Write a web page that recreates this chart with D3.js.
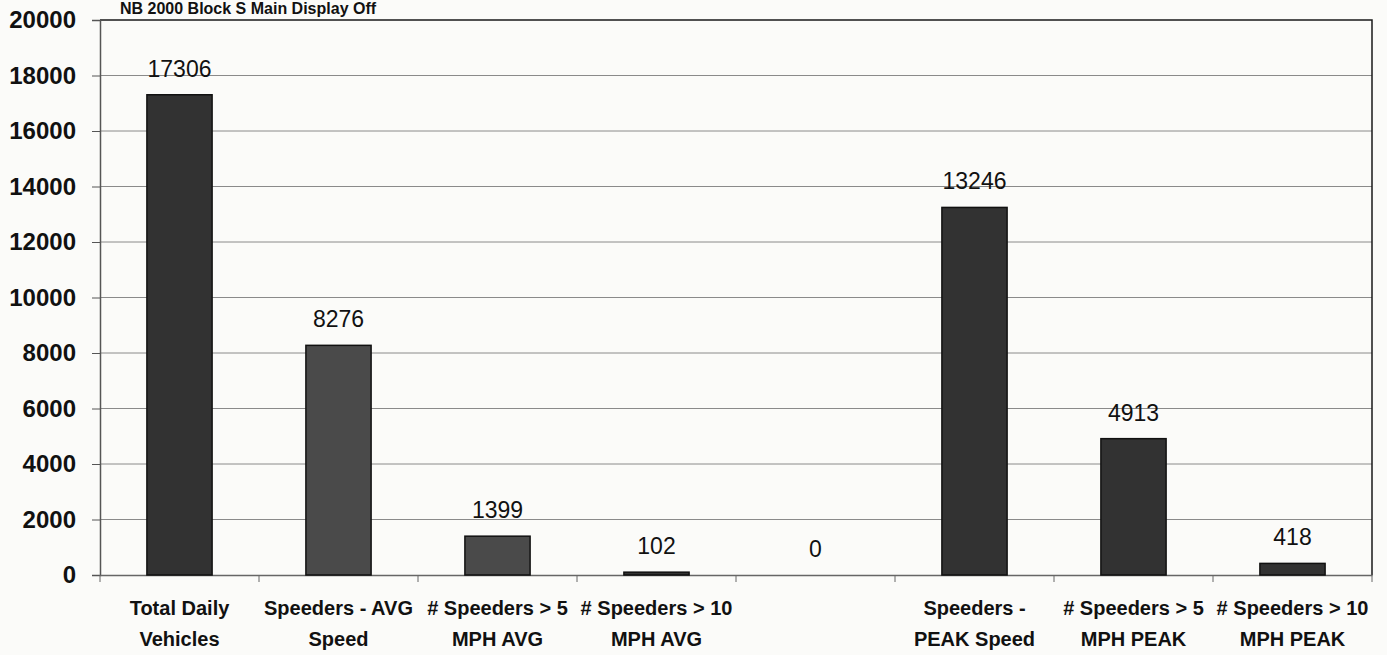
<!DOCTYPE html>
<html>
<head>
<meta charset="utf-8">
<script src="https://cdn.jsdelivr.net/npm/d3@7"></script>
<style>
  body { margin: 0; background: #fbfbf9; }
  svg { display: block; }
</style>
</head>
<body>
<svg id="chart" width="1387" height="655"></svg>
<script>
/* Chart data */
var categories = [
    ["Total Daily", "Vehicles"],
    ["Speeders - AVG", "Speed"],
    ["# Speeders > 5", "MPH AVG"],
    ["# Speeders > 10", "MPH AVG"],
    [""],
    ["Speeders -", "PEAK Speed"],
    ["# Speeders > 5", "MPH PEAK"],
    ["# Speeders > 10", "MPH PEAK"]
];
var values = [17306, 8276, 1399, 102, 0, 13246, 4913, 418];
var yTicks = [0, 2000, 4000, 6000, 8000, 10000, 12000, 14000, 16000, 18000, 20000];
var title = "NB 2000 Block S Main Display Off";

var svg = d3.select("#chart"),
    margin = { top: 20, right: 15, bottom: 80, left: 100 },
    width = +svg.attr("width") - margin.left - margin.right,
    height = +svg.attr("height") - margin.top - margin.bottom;

var font = "'Liberation Sans', Arial, sans-serif";

// title, squeezed above the plot frame
svg.append("text")
    .attr("x", 120)
    .attr("y", 14)
    .attr("font-family", font)
    .attr("font-weight", "bold")
    .attr("font-size", 16)
    .attr("fill", "#111")
    .text(title);

var x = d3.scaleBand()
    .domain(d3.range(categories.length))
    .range([0, width])
    .paddingInner(0)
    .paddingOuter(0);

var y = d3.scaleLinear()
    .domain([0, 20000])
    .range([height, 0]);

var g = svg.append("g")
    .attr("transform", "translate(" + margin.left + "," + margin.top + ")");

// gridlines
g.selectAll(".grid")
    .data(yTicks.slice(1, -1))
    .enter().append("line")
    .attr("x1", 0)
    .attr("x2", width)
    .attr("y1", function (d) { return y(d); })
    .attr("y2", function (d) { return y(d); })
    .attr("stroke", "#8a8a8a")
    .attr("stroke-width", 1);

// frame top and right
g.append("path")
    .attr("d", "M0," + y(20000) + "H" + width + "V" + height)
    .attr("fill", "none")
    .attr("stroke", "#1a1a1a")
    .attr("stroke-width", 1.5);

// y axis
var yAxis = g.append("g")
    .call(d3.axisLeft(y).tickValues(yTicks).tickSize(8).tickPadding(16).tickFormat(d3.format("d")));
yAxis.select(".domain").attr("stroke", "#555").attr("stroke-width", 1.5);
yAxis.selectAll(".tick line").attr("stroke", "#555");
yAxis.selectAll("text")
    .attr("font-family", font)
    .attr("font-weight", "bold")
    .attr("font-size", 24)
    .attr("fill", "#111");

// x axis with ticks on band edges
var xAxis = g.append("g")
    .attr("transform", "translate(0," + height + ")")
    .call(d3.axisBottom(x).tickSize(0).tickFormat(""));
xAxis.select(".domain").attr("stroke", "#666").attr("stroke-width", 1.5);

g.selectAll(".xtick")
    .data(d3.range(categories.length + 1))
    .enter().append("line")
    .attr("x1", function (d) { return d * x.step(); })
    .attr("x2", function (d) { return d * x.step(); })
    .attr("y1", height)
    .attr("y2", height + 7)
    .attr("stroke", "#666");

// category labels
var labels = g.selectAll(".xlabel")
    .data(categories)
    .enter().append("text")
    .attr("text-anchor", "middle")
    .attr("font-family", font)
    .attr("font-weight", "bold")
    .attr("font-size", 20)
    .attr("fill", "#111")
    .attr("transform", function (d, i) {
        return "translate(" + (x(i) + x.bandwidth() / 2) + "," + (height + 40) + ")";
    });
labels.selectAll("tspan")
    .data(function (d) { return d; })
    .enter().append("tspan")
    .attr("x", 0)
    .attr("dy", function (d, i) { return i === 0 ? 0 : 31; })
    .text(function (d) { return d; });

// bars
var barW = x.bandwidth() * 0.41;
g.selectAll(".bar")
    .data(values)
    .enter().append("rect")
    .attr("class", "bar")
    .attr("x", function (d, i) { return x(i) + (x.bandwidth() - barW) / 2; })
    .attr("y", function (d) { return y(d); })
    .attr("width", barW)
    .attr("height", function (d) { return height - y(d); })
    .attr("fill", function (d, i) { return (i === 1 || i === 2) ? "#4a4a4a" : "#323232"; })
    .attr("stroke", "#111")
    .attr("stroke-width", 1.5);

// value labels
g.selectAll(".val")
    .data(values)
    .enter().append("text")
    .attr("x", function (d, i) { return x(i) + x.bandwidth() / 2; })
    .attr("y", function (d) { return y(d) - 18; })
    .attr("text-anchor", "middle")
    .attr("font-family", font)
    .attr("font-size", 23)
    .attr("fill", "#111")
    .text(function (d) { return d; });
</script>
</body>
</html>
